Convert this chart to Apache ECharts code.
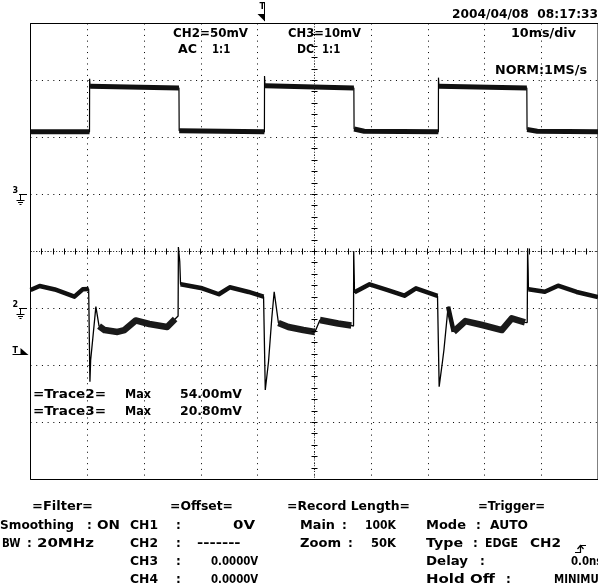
<!DOCTYPE html>
<html>
<head>
<meta charset="utf-8">
<script src="https://cdn.jsdelivr.net/npm/echarts@6/dist/echarts.min.js"></script>
<style>
  html, body { margin: 0; padding: 0; background: #fff; }
  #scope { width: 598px; height: 588px; }
</style>
</head>
<body>
<div id="scope"></div>
<script>
// ---- Acquisition settings ----
const timeRange = [0, 100];        // ms across the screen (10 ms/div)
const timePerDiv = 10;
const ch3Scale = [-50, 30, 10];    // mV: bottom, top, per div (CH3 = 10 mV/div, ground 3 div from top)
const ch2Scale = [-150, 250, 50];  // mV: bottom, top, per div (CH2 = 50 mV/div, ground 5 div from top)
const triggerTime = 41.2;          // ms
const triggerLevel = -40;          // mV on CH2

// ---- CH3 trace: [time ms, level mV] ----
const ch3Trace = [
  [0, 11.0], [10.40, 11.0],
  [10.42, 20.3], [10.50, 19.0], [26.16, 18.7],
  [26.20, 11.2], [41.22, 11.0],
  [41.24, 20.8], [41.32, 19.1], [56.98, 18.7],
  [57.02, 11.5], [58.80, 11.1], [71.87, 11.0],
  [71.89, 20.5], [71.97, 19.0], [87.46, 18.7],
  [87.50, 11.4], [89.30, 11.1], [100, 11.0]
];

// ---- CH2 trace: [time ms, level mV] ----
const ch2Trace = [
  [0, 16.2], [1.61, 19.7], [4.29, 16.7], [7.74, 10.4], [9.19, 16.8], [10.25, 17.1],
  [10.47, -64.2], [10.60, -45.2], [10.95, -27.6], [11.52, 1.6], [12.08, -15.4],
  [13.05, -18.9], [15.32, -20.6], [16.55, -18.9], [18.53, -10.5], [20.93, -13.6],
  [24.08, -16.2], [25.48, -9.2], [26.01, -6.6],
  [26.06, 54.0], [26.30, 41.1], [26.44, 21.2], [30.26, 17.7], [33.19, 12.5],
  [35.11, 18.6], [38.44, 14.5], [41.07, 10.4],
  [41.37, -71.5], [41.94, -46.7], [42.52, -8.3], [42.94, 14.7], [43.69, -12.7],
  [45.44, -16.2], [48.07, -18.9], [50.12, -20.6], [51.00, -10.1], [54.20, -13.2],
  [56.53, -14.9], [56.92, -15.4],
  [56.95, 50.4], [57.04, 29.4], [57.09, 14.2], [59.75, 21.2], [62.95, 16.2],
  [65.88, 11.2], [67.92, 17.7], [71.72, 11.0],
  [72.01, -68.6], [72.59, -46.7], [72.85, -36.4], [73.59, 1.6], [74.57, -20.4],
  [76.62, -11.0], [79.60, -14.5], [83.05, -18.9], [84.80, -8.6], [87.13, -12.1],
  [87.53, -12.3],
  [87.60, 52.8], [87.69, 33.8], [87.74, 16.8], [90.63, 14.7], [92.96, 20.0],
  [96.23, 14.5], [100, 10.0]
];

// ---- Screen readouts ----
const trace2Max = '54.00mV';
const trace3Max = '20.80mV';

const FONT = 'bold 12px "DejaVu Sans"';
const SMALL = 'bold 8px "DejaVu Sans"';

// [text, left px, right px (null = natural width), middle y px]
const screenText = [
  ['2004/04/08  08:17:33', 452, 598, 14],
  ['CH2=50mV', 173, 248, 33.5],
  ['AC', 178, 197, 49.5], ['1:1', 212, 230, 49.5],
  ['CH3=10mV', 288, 361, 33.5],
  ['DC', 297, 314, 49.5], ['1:1', 322, 340, 49.5],
  ['10ms/div', 511, 576, 33.5],
  ['NORM:1MS/s', 495, 587, 70],
  ['=Trace2=', 33, 106, 394], ['Max', 125, 151, 394], [trace2Max, 180, 242, 394],
  ['=Trace3=', 33, 106, 411], ['Max', 125, 151, 411], [trace3Max, 180, 242, 411],

  ['=Filter=', 32, 93, 506],
  ['Smoothing', 0, 74, 525], [':', 87, null, 525], ['ON', 97, 120, 525],
  ['BW', 2, 20, 543], [':', 27, null, 543], ['20MHz', 37, 98, 543],

  ['=Offset=', 170, 233, 506],
  ['CH1', 130, 158, 525], [':', 176, null, 525], ['0V', 233, 255, 525],
  ['CH2', 130, 158, 543], [':', 176, null, 543], ['-------', 197, 256, 543],
  ['CH3', 130, 158, 561], [':', 176, null, 561], ['0.0000V', 211, 256, 561],
  ['CH4', 130, 158, 579], [':', 176, null, 579], ['0.0000V', 211, 256, 579],

  ['=Record Length=', 287, 410, 506],
  ['Main', 300, 335, 525], [':', 342, null, 525], ['100K', 365, 396, 525],
  ['Zoom', 300, 341, 543], [':', 348, null, 543], ['50K', 371, 396, 543],

  ['=Trigger=', 478, 545, 506],
  ['Mode', 426, 466, 525], [':', 476, null, 525], ['AUTO', 490, 528, 525],
  ['Type', 426, 463, 543], [':', 473, null, 543], ['EDGE', 485, 518, 543], ['CH2', 530, 561, 543],
  ['Delay', 426, 468, 561], [':', 480, null, 561], ['0.0ns', 571, 599, 561],
  ['Hold Off', 426, 495, 579], [':', 506, null, 579], ['MINIMUM', 554, 604, 579]
];

// Split a trace into its slow (plateau) parts, drawn as a wide noisy band;
// keep(a, b) picks which of those segments go into this band.
function plateauParts(trace, minSpan, keep) {
  const out = [];
  let last = null;
  for (let i = 0; i < trace.length - 1; i++) {
    const a = trace[i], b = trace[i + 1];
    if (b[0] - a[0] >= minSpan && (!keep || keep(a, b))) {
      if (last !== a) {
        if (out.length) out.push([a[0], '-']);
        out.push(a);
      }
      out.push(b);
      last = b;
    }
  }
  return out;
}
const isLow = (a, b) => a[1] < -5 && b[1] < -5;

const measureCtx = document.createElement('canvas').getContext('2d');
function textEl(str, left, right, yMid, font) {
  measureCtx.font = font;
  const w = measureCtx.measureText(str).width;
  let sx = right == null ? 1 : (right - left) / w;
  sx = Math.max(0.85, Math.min(1.25, sx));
  return {
    type: 'text', x: left, y: yMid + 0.5, scaleX: sx, silent: true, z: 20,
    style: {
      text: str, font: font, fill: '#000',
      textAlign: 'left', textVerticalAlign: 'middle', align: 'left', verticalAlign: 'middle'
    }
  };
}

const hiddenAxis = {
  axisLabel: { show: false }, axisTick: { show: false }, axisLine: { show: false }
};
const dotted = { color: '#000', width: 1, type: [1, 4.71] };

const chart = echarts.init(document.getElementById('scope'), null, { renderer: 'canvas' });
chart.setOption({
  animation: false,
  backgroundColor: '#fff',
  grid: {
    left: 30.5, top: 23.5, width: 571, height: 456,
    show: true, borderColor: '#000', borderWidth: 1, backgroundColor: 'transparent'
  },
  xAxis: Object.assign({
    type: 'value', min: timeRange[0], max: timeRange[1], interval: timePerDiv,
    splitLine: { show: true, lineStyle: dotted }
  }, hiddenAxis),
  yAxis: [
    Object.assign({
      type: 'value', min: ch3Scale[0], max: ch3Scale[1], interval: ch3Scale[2],
      splitLine: { show: true, lineStyle: dotted }
    }, hiddenAxis),
    Object.assign({
      type: 'value', min: ch2Scale[0], max: ch2Scale[1], interval: ch2Scale[2],
      splitLine: { show: false }
    }, hiddenAxis)
  ],
  series: [
    {
      name: 'CH3', type: 'line', yAxisIndex: 0, data: ch3Trace, symbol: 'none',
      lineStyle: { color: '#000', width: 1.2 }, silent: true, z: 3
    },
    {
      name: 'CH3 band', type: 'line', yAxisIndex: 0, data: plateauParts(ch3Trace, 0.9),
      symbol: 'none', connectNulls: false,
      lineStyle: { color: '#111', width: 5, join: 'round' }, silent: true, z: 3
    },
    {
      name: 'CH2', type: 'line', yAxisIndex: 1, data: ch2Trace, symbol: 'none',
      lineStyle: { color: '#000', width: 1.3 }, silent: true, z: 4
    },
    {
      name: 'CH2 band', type: 'line', yAxisIndex: 1,
      data: plateauParts(ch2Trace, 0.9, (a, b) => !isLow(a, b)),
      symbol: 'none', connectNulls: false,
      lineStyle: { color: '#111', width: 4.5, join: 'round' }, silent: true, z: 4
    },
    {
      name: 'CH2 noisy band', type: 'line', yAxisIndex: 1,
      data: plateauParts(ch2Trace, 0.9, isLow),
      symbol: 'none', connectNulls: false,
      lineStyle: { color: '#1a1a1a', width: 6.5, join: 'round' }, silent: true, z: 4
    }
  ]
});

// ---- Overlays placed through the axis scales ----
const px = t => chart.convertToPixel({ xAxisIndex: 0 }, t);
const py3 = v => chart.convertToPixel({ yAxisIndex: 0 }, v);
const py2 = v => chart.convertToPixel({ yAxisIndex: 1 }, v);
const crisp = v => Math.round(v - 0.5) + 0.5;

const g = [];
const line = (x1, y1, x2, y2, extra) => g.push(Object.assign({
  type: 'line', silent: true, z: 10,
  shape: { x1: x1, y1: y1, x2: x2, y2: y2 },
  style: { stroke: '#000', lineWidth: 1 }
}, extra || {}));

// centre graticule with minor ticks
const xLeft = px(timeRange[0]), xRight = px(timeRange[1]);
const yTop = py3(ch3Scale[1]), yBottom = py3(ch3Scale[0]);
const xc = crisp(px((timeRange[0] + timeRange[1]) / 2));
const yc = crisp(py3((ch3Scale[0] + ch3Scale[1]) / 2));
line(xLeft, yc, xRight, yc, { style: { stroke: '#222', lineWidth: 1, lineDash: [1, 1.85] } });
line(xc, yTop, xc, yBottom, { style: { stroke: '#222', lineWidth: 1, lineDash: [1, 1.85] } });
for (let t = timeRange[0]; t <= timeRange[1]; t += timePerDiv / 5) {
  const x = crisp(px(t));
  line(x, yc - 3, x, yc + 3);
}
for (let v = ch3Scale[0]; v <= ch3Scale[1]; v += ch3Scale[2] / 5) {
  const y = crisp(py3(v));
  line(xc - 3, y, xc + 3, y);
}

// channel ground markers
function groundMarker(label, y) {
  y = crisp(y);
  g.push(textEl(label, 12.5, null, y - 4, SMALL));
  line(19, y, 27, y);
  line(20.5, y, 20.5, y + 6);
  line(16.5, y + 6, 24.5, y + 6);
  line(18, y + 8, 23, y + 8);
  line(19.5, y + 10, 21.5, y + 10);
}
groundMarker('3', py3(0));
groundMarker('2', py2(0));

// trigger level marker (left edge)
const yt = crisp(py2(triggerLevel));
g.push(textEl('T', 12.5, null, yt - 4, SMALL));
line(12.5, yt, 21, yt);
g.push({
  type: 'polygon', silent: true, z: 10,
  shape: { points: [[20.5, yt - 6.5], [20.5, yt + 0.5], [28.5, yt + 0.5]] },
  style: { fill: '#000' }
});

// trigger position marker (top edge)
const xt = crisp(px(triggerTime));
g.push(textEl('T', xt - 5, null, 6.5, SMALL));
line(xt, 2.5, xt, 21);
g.push({
  type: 'polygon', silent: true, z: 10,
  shape: { points: [[xt - 7, 14], [xt + 0.5, 14], [xt + 0.5, 21.5]] },
  style: { fill: '#000' }
});

// readout texts
screenText.forEach(r => g.push(textEl(r[0], r[1], r[2], r[3], FONT)));

// rising-edge symbol next to the trigger type
g.push({
  type: 'polyline', silent: true, z: 10,
  shape: { points: [[575, 552.5], [580.5, 552.5], [580.5, 545.5], [586, 545.5]] },
  style: { stroke: '#000', lineWidth: 1.2, fill: null }
});
g.push({
  type: 'polyline', silent: true, z: 10,
  shape: { points: [[577.5, 549], [580.5, 545.5], [583.5, 549]] },
  style: { stroke: '#000', lineWidth: 1.2, fill: null }
});

chart.setOption({ graphic: { elements: g } });
</script>
</body>
</html>
